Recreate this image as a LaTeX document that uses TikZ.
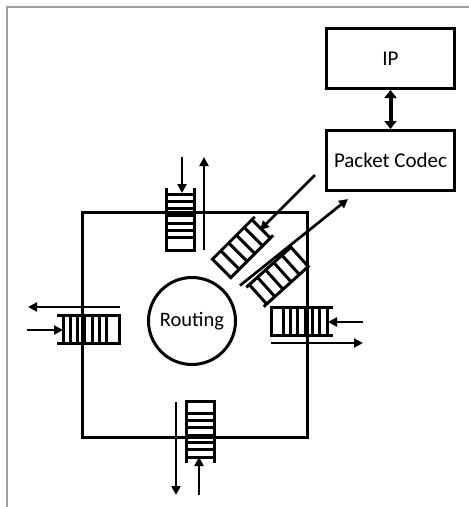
\documentclass[tikz,border=0pt]{standalone}
\usepackage{fontspec}
\setmainfont{Carlito}
\usetikzlibrary{positioning, arrows.meta}

\begin{document}
\begin{tikzpicture}[x=1pt, y=-1pt,
    box/.style={draw, line width=3pt, minimum width=128pt, minimum height=60pt,
                font=\fontsize{21}{24}\selectfont},
    router/.style={draw, line width=3pt, minimum width=225pt, minimum height=225pt},
    hub/.style={draw, circle, line width=3pt, minimum size=87pt,
                font=\fontsize{20.5}{24}\selectfont},
    qline/.style={line width=3pt},
    arr/.style={-{Triangle[length=9pt, width=9pt]}, line width=2.7pt},
    bi/.style={{Triangle[length=8pt, width=12pt]}-{Triangle[length=8pt, width=12pt]}, line width=4pt},
    frame/.style={draw=gray!75, line width=1.5pt},
    pics/queue/.style n args={3}{code={
      \draw[qline] (0,#1) -- (#2,#1) -- (#2,-#1) -- (0,-#1);
      \foreach \r in {#3} \draw[qline] (\r,#1) -- (\r,-#1);
    }}
  ]
  \useasboundingbox (0,0) rectangle (469,507);
  \draw[frame] (469,7) -- (7,7) -- (7,507);

  % switch and routing unit
  \node[router] (switch) at (194.5,324.5) {};
  \node[hub] (routing) at (192,321) {Routing};

  % local side
  \node[box] (ip) at (390.5,58.5) {IP};
  \node[box, below=39pt of ip] (codec) {Packet Codec};
  \draw[bi] (ip) -- (codec);

  % port buffers
  \pic[rotate=-90] at (180.5,188) {queue={14}{62}{6,13.3,...,56}};
  \pic at (57,329.5) {queue={14}{62}{6,13.3,...,56}};
  \pic[rotate=180] at (333,321) {queue={14}{62}{6,13.3,...,56}};
  \pic[rotate=90] at (200,463) {queue={14}{62}{6,13.3,...,56}};
  \pic[rotate=225] at (264,226) {queue={13}{60}{4,15,...,48}};
  \pic[rotate=42] at (255,297) {queue={13}{60}{4,15,...,48}};

  % arrow ends
  \coordinate (northIn0) at (182,157);   \coordinate (northIn1) at (182,193);
  \coordinate (northOut0) at (204,250);  \coordinate (northOut1) at (204,157);
  \coordinate (westOut0) at (120,307);   \coordinate (westOut1) at (28,307);
  \coordinate (westIn0) at (27,330);     \coordinate (westIn1) at (63,330);
  \coordinate (eastIn0) at (363,322);    \coordinate (eastIn1) at (328,322);
  \coordinate (eastOut0) at (271,343);   \coordinate (eastOut1) at (363,343);
  \coordinate (southOut0) at (176,402);  \coordinate (southOut1) at (176,495);
  \coordinate (southIn0) at (199,495);   \coordinate (southIn1) at (199,457);
  \coordinate (localIn0) at (315,175);   \coordinate (localIn1) at (260,230);
  \coordinate (localOut0) at (240,285.5);\coordinate (localOut1) at (348,199);

  \draw[arr] (northIn0) -- (northIn1);
  \draw[arr] (northOut0) -- (northOut1);
  \draw[arr] (westOut0) -- (westOut1);
  \draw[arr] (westIn0) -- (westIn1);
  \draw[arr] (eastIn0) -- (eastIn1);
  \draw[arr] (eastOut0) -- (eastOut1);
  \draw[arr] (southOut0) -- (southOut1);
  \draw[arr] (southIn0) -- (southIn1);
  \draw[arr] (localIn0) -- (localIn1);
  \draw[arr] (localOut0) -- (localOut1);
\end{tikzpicture}
\end{document}
